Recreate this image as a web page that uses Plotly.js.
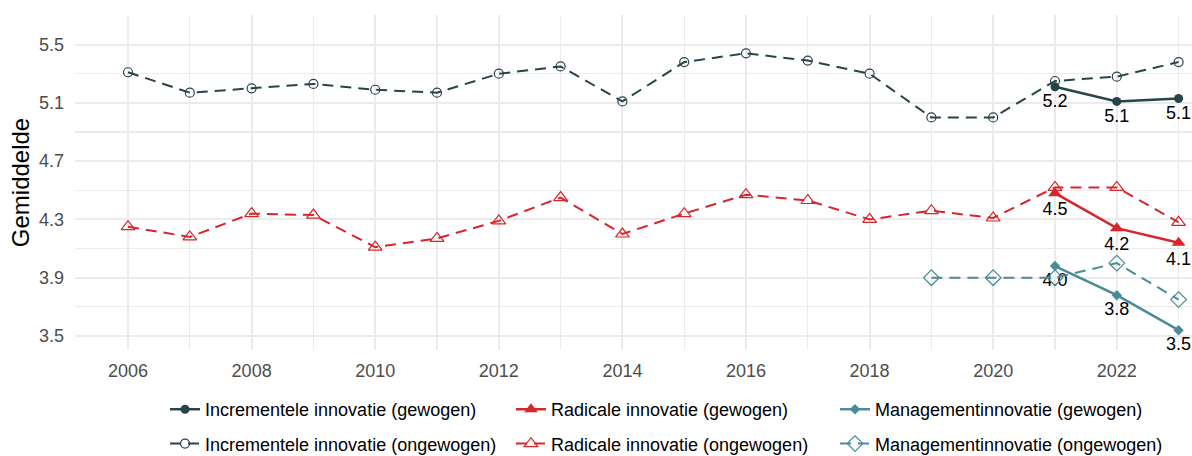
<!DOCTYPE html>
<html>
<head>
<meta charset="utf-8">
<script src="https://cdn.plot.ly/plotly-3.0.1.min.js"></script>
<style>html,body{margin:0;padding:0;background:#fff;}#chart{width:1192px;height:456px;}</style>
</head>
<body>
<div id="chart"></div>
<script>
// ---- Data ----
const yearsAll = [2006,2007,2008,2009,2010,2011,2012,2013,2014,2015,2016,2017,2018,2019,2020,2021,2022,2023];
const yearsWeighted = [2021,2022,2023];
const yearsMgmtUnweighted = [2019,2020,2021,2022,2023];

const incrementalUnweighted = [5.31,5.17,5.20,5.23,5.19,5.17,5.30,5.35,5.11,5.38,5.44,5.39,5.30,5.00,5.00,5.25,5.28,5.38];
const radicalUnweighted = [4.25,4.18,4.34,4.33,4.11,4.17,4.29,4.45,4.20,4.34,4.47,4.43,4.30,4.36,4.31,4.52,4.52,4.28];
const mgmtUnweighted = [3.90,3.90,3.90,4.00,3.75];

const incrementalWeighted = [5.21,5.11,5.13];
const radicalWeighted = [4.48,4.24,4.14];
const mgmtWeighted = [3.98,3.78,3.54];

const names = {
  incW: "Incrementele innovatie (gewogen)",
  incU: "Incrementele innovatie (ongewogen)",
  radW: "Radicale innovatie (gewogen)",
  radU: "Radicale innovatie (ongewogen)",
  mgmW: "Managementinnovatie (gewogen)",
  mgmU: "Managementinnovatie (ongewogen)"
};
const xTicks = [2006,2008,2010,2012,2014,2016,2018,2020,2022];
const yTicks = [3.5,3.9,4.3,4.7,5.1,5.5];

// ---- Styles ----
const cInc = "#27444b";
const cRad = "#d7262b";
const cMgm = "#4b8b97";
const FONT = "Liberation Sans, Arial, sans-serif";
const dashPat = "11px,7px";
const labelFont = {family: FONT, size: 18, color: "#000"};

function fmt(arr){ return arr.map(v => v.toFixed(1)); }

const traces = [
  {x: yearsWeighted, y: incrementalWeighted, name: names.incW, legend: "legend", legendgroup: "a",
   mode: "lines+markers+text", text: fmt(incrementalWeighted), textposition: "bottom center", textfont: labelFont,
   line: {color: cInc, width: 2.5}, marker: {symbol: "circle", size: 9, color: cInc}, cliponaxis: false},
  {x: yearsAll, y: incrementalUnweighted, name: names.incU, legend: "legend", legendgroup: "b",
   mode: "lines+markers", line: {color: cInc, width: 2, dash: dashPat},
   marker: {symbol: "circle-open", size: 9, color: cInc, line: {width: 1.2}}},
  {x: yearsWeighted, y: radicalWeighted, name: names.radW, legend: "legend2", legendgroup: "c",
   mode: "lines+markers+text", text: fmt(radicalWeighted), textposition: "bottom center", textfont: labelFont,
   line: {color: cRad, width: 2.5}, marker: {symbol: "triangle-up", size: 12, color: cRad}, cliponaxis: false},
  {x: yearsAll, y: radicalUnweighted, name: names.radU, legend: "legend2", legendgroup: "d",
   mode: "lines+markers", line: {color: cRad, width: 2, dash: dashPat},
   marker: {symbol: "triangle-up-open", size: 12, color: cRad, line: {width: 1.2}}},
  {x: yearsWeighted, y: mgmtWeighted, name: names.mgmW, legend: "legend3", legendgroup: "e",
   mode: "lines+markers+text", text: fmt(mgmtWeighted), textposition: "bottom center", textfont: labelFont,
   line: {color: cMgm, width: 2.5}, marker: {symbol: "diamond", size: 8, color: cMgm}, cliponaxis: false},
  {x: yearsMgmtUnweighted, y: mgmtUnweighted, name: names.mgmU, legend: "legend3", legendgroup: "f",
   mode: "lines+markers", line: {color: cMgm, width: 2, dash: dashPat},
   marker: {symbol: "diamond-open", size: 12, color: cMgm, line: {width: 1.2}}}
];

function leg(x){
  return {x: x, xref: "paper", y: 0.1425, yref: "container", xanchor: "left", yanchor: "top",
    orientation: "v", traceorder: "grouped", tracegroupgap: 8,
    font: {family: FONT, size: 18, color: "#000"}, bgcolor: "rgba(0,0,0,0)", borderwidth: 0};
}

const layout = {
  width: 1192, height: 456,
  margin: {l: 75, r: 0, t: 15, b: 106},
  paper_bgcolor: "#fff", plot_bgcolor: "#fff",
  font: {family: FONT, size: 18, color: "#4d4d4d"},
  showlegend: true,
  legend: leg(0.0806),
  legend2: leg(0.3903),
  legend3: leg(0.6804),
  xaxis: {
    range: [2005.142, 2023.217], tickvals: xTicks, ticktext: xTicks.map(String),
    showgrid: true, gridcolor: "#ebebeb", gridwidth: 2,
    minor: {dtick: 1, tick0: 2005, showgrid: true, gridcolor: "#ebebeb", gridwidth: 1.2},
    zeroline: false, showline: false, ticks: "", ticklabelstandoff: 8,
    tickfont: {family: FONT, size: 18, color: "#4d4d4d"}
  },
  yaxis: {
    range: [3.404, 5.703], tickvals: yTicks, ticktext: yTicks.map(v => v.toFixed(1)),
    showgrid: true, gridcolor: "#ebebeb", gridwidth: 2,
    minor: {dtick: 0.2, tick0: 3.5, showgrid: true, gridcolor: "#ebebeb", gridwidth: 1.2},
    zeroline: false, showline: false, ticks: "", ticklabelstandoff: 10,
    tickfont: {family: FONT, size: 18, color: "#4d4d4d"},
    title: {text: "Gemiddelde", font: {family: FONT, size: 24, color: "#000"}, standoff: 2}
  }
};

Plotly.newPlot("chart", traces, layout, {displayModeBar: false, staticPlot: true});
</script>
</body>
</html>
